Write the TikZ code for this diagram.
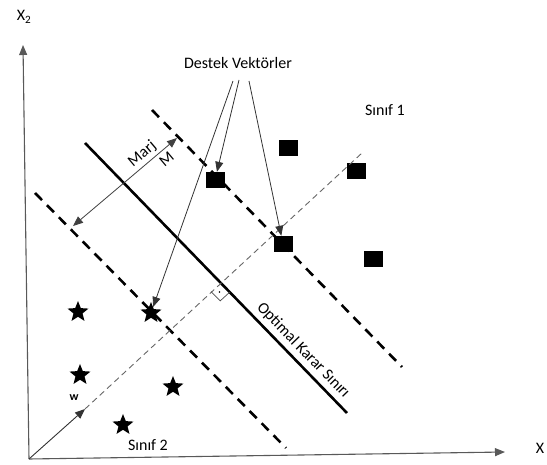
\documentclass[tikz,border=0pt]{standalone}
\usepackage{fontspec}
\setmainfont{Carlito}
\usetikzlibrary{arrows.meta,shapes.geometric}

\begin{document}
\begin{tikzpicture}[x=1pt, y=-1pt,
  class one/.style={rectangle, fill=black, minimum width=19pt, minimum height=16pt, inner sep=0pt},
  class two/.style={star, star points=5, star point ratio=2.3, fill=black, minimum size=22pt, inner sep=0pt},
  label text/.style={font=\fontsize{16}{19}\selectfont, text=black, inner sep=1pt},
  big tip/.style={-{Triangle[length=10pt, width=8pt]}},
  margin line/.style={-, line width=2.6pt, dash pattern=on 10pt off 7pt},
  thin arrow/.style={big tip, black!80, line width=0.8pt}]
\useasboundingbox (0,0) rectangle (547,465);

% axes
\coordinate (o) at (29,459);
\coordinate (xend) at (505,452);
\coordinate (yend) at (23,45);
\node[label text] (xl) at (540,448) {X};
\node[label text] (yl) at (24,17) {X\textsubscript{2}};

% optimal boundary
\coordinate (b0) at (85,143);
\coordinate (b1) at (347,413);

% upper margin
\coordinate (u0) at (152,110);
\coordinate (u1) at (402,367);

% lower margin
\coordinate (l0) at (35,193);
\coordinate (l1) at (286,448);

% w
\coordinate (w1) at (85,409);
\coordinate (w2) at (362,153);

% marj
\coordinate (m0) at (73,226);
\coordinate (m1) at (177,138);

% right angle
\coordinate (r0) at (220.7,282.8);
\coordinate (r1) at (211.1,291.6);
\coordinate (r2) at (229.8,292.1);
\coordinate (r3) at (220.2,300.9);

% Sinif 1
\node[class one] (n0) at (215,180) {};
\node[class one] (n1) at (288,148) {};
\node[class one] (n2) at (356,171) {};
\node[class one] (n3) at (283,244) {};
\node[class one] (n4) at (373,259) {};

% Sinif 2
\node[class two] (n5) at (78,312) {};
\node[class two] (n6) at (151,313) {};
\node[class two] (n7) at (80,375) {};
\node[class two] (n8) at (173,387) {};
\node[class two] (n9) at (123,425) {};

% labels
\node[label text] (dv) at (238,63) {Destek Vektörler};
\coordinate (d0) at (233,81);
\coordinate (d1) at (239,80);
\coordinate (d2) at (249,81);
\node[label text] (c1) at (385,110) {Sınıf 1};
\node[label text] (c2) at (148,445) {Sınıf 2};
\node[font=\fontsize{12}{14}\selectfont\bfseries, inner sep=1pt] (wl) at (74,398) {w};

\path[]
% axes
(o) edge[big tip, black!65, line width=1.1pt] (xend)
(o) edge[big tip, black!65, line width=1.1pt] (yend)

% boundary and margins
(b0) edge[-, line width=2.6pt] node[sloped, above, label text, inner sep=4pt, pos=0.8] {Optimal Karar Sınırı} (b1)
(u0) edge[margin line] (u1)
(l0) edge[margin line] (l1)

% w vector
(o) edge[big tip, black!80, line width=0.9pt] (w1)
(w1) edge[-, black!60, line width=0.9pt, dash pattern=on 6pt off 4pt] (w2)

% marj
(m0) edge[{Triangle[length=10pt, width=8pt]}-{Triangle[length=10pt, width=8pt]}, black!75, line width=0.8pt]
  node[sloped, above, label text, inner sep=3pt, pos=0.73] {Marj}
  node[sloped, below, label text, inner sep=4pt, pos=0.84] {M} (m1)

% destek vektorler
(d0) edge[thin arrow] (n6)
(d1) edge[thin arrow] (n0)
(d2) edge[thin arrow] (n3)
;

% right angle mark
\draw[black!70, line width=0.7pt] (r1) -- (r3) -- (r2);
\fill (219.5,292) circle (0.9);

\end{tikzpicture}
\end{document}
